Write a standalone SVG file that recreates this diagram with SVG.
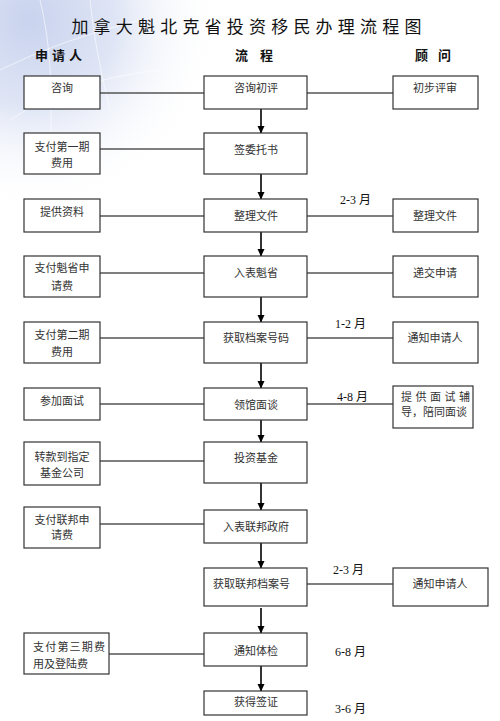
<svg xmlns="http://www.w3.org/2000/svg" width="500" height="721" viewBox="0 0 500 721">
<defs>
<radialGradient id="bg" cx="30" cy="20" r="190" gradientUnits="userSpaceOnUse">
<stop offset="0" stop-color="#c9d3ee"/>
<stop offset="0.45" stop-color="#dfe5f5"/>
<stop offset="1" stop-color="#ffffff" stop-opacity="0"/>
</radialGradient>
<marker id="ah" markerWidth="8" markerHeight="8" refX="7" refY="4" orient="auto" markerUnits="userSpaceOnUse">
<path d="M0,0.5 L7.5,4 L0,7.5 Z" fill="#000"/>
</marker>
<style>
.box{fill:#fff;stroke:#333;stroke-width:1.2}
.t{font-family:"Noto Sans CJK SC",sans-serif;font-size:11px;fill:#333;text-anchor:middle}
.tl{font-family:"Noto Sans CJK SC",sans-serif;font-size:11px;fill:#333}
.m{font-family:"Liberation Serif","Noto Sans CJK SC",serif;font-size:12px;fill:#111}
.h{font-family:"Noto Sans CJK SC",sans-serif;font-size:13px;font-weight:bold;fill:#111}
.link{stroke:#555;stroke-width:1.3;fill:none}
.arr{stroke:#000;stroke-width:1.6;fill:none;marker-end:url(#ah)}
</style>
</defs>
<rect width="500" height="721" fill="#fff"/>
<rect width="220" height="200" fill="url(#bg)"/>
<g stroke="#fff" stroke-opacity="0.6" fill="none" stroke-width="1">
<path d="M0,70 Q60,40 140,20"/>
<path d="M10,120 Q70,80 160,70"/>
<path d="M40,0 Q55,60 50,150"/>
<path d="M90,0 Q95,50 110,110"/>
</g>
<text x="249" y="33" font-family="Noto Sans CJK SC,sans-serif" font-size="17" letter-spacing="5.2" text-anchor="middle" fill="#111">加拿大魁北克省投资移民办理流程图</text>
<g id="headers">
<text class="h" x="35 48 52 65 69" y="60">申 请 人</text>
<text class="h" x="235 250 260" y="60">流 程</text>
<text class="h" x="415 430 438" y="60">顾 问</text>
</g>
<g id="connectors">
<line class="link" x1="100" y1="93" x2="204" y2="93"/>
<line class="link" x1="307" y1="93" x2="393" y2="93"/>
<line class="link" x1="100" y1="149" x2="204" y2="149"/>
<line class="link" x1="100" y1="216" x2="204" y2="216"/>
<line class="link" x1="307" y1="216" x2="393" y2="216"/>
<line class="link" x1="100" y1="273" x2="204" y2="273"/>
<line class="link" x1="307" y1="273" x2="393" y2="273"/>
<line class="link" x1="100" y1="338" x2="204" y2="338"/>
<line class="link" x1="307" y1="338" x2="393" y2="338"/>
<line class="link" x1="100" y1="404" x2="204" y2="404"/>
<line class="link" x1="307" y1="404" x2="393" y2="404"/>
<line class="link" x1="100" y1="461" x2="204" y2="461"/>
<line class="link" x1="100" y1="524" x2="204" y2="524"/>
<line class="link" x1="307" y1="584" x2="393" y2="584"/>
<line class="link" x1="109" y1="654" x2="204" y2="654"/>
<line class="arr" x1="261" y1="109" x2="261" y2="133"/>
<line class="arr" x1="261" y1="174" x2="261" y2="199"/>
<line class="arr" x1="261" y1="232" x2="261" y2="256"/>
<line class="arr" x1="261" y1="297" x2="261" y2="322"/>
<line class="arr" x1="261" y1="363" x2="261" y2="388"/>
<line class="arr" x1="261" y1="420" x2="261" y2="442"/>
<line class="arr" x1="261" y1="483" x2="261" y2="510"/>
<line class="arr" x1="261" y1="543" x2="261" y2="568"/>
<line class="arr" x1="261" y1="608" x2="261" y2="633"/>
<line class="arr" x1="261" y1="666" x2="261" y2="691"/>
</g>
<g id="n1"><rect class="box" x="204" y="76" width="103" height="33"/><text class="t" x="256" y="92">咨询初评</text></g>
<g id="n2"><rect class="box" x="204" y="133" width="103" height="41"/><text class="t" x="256" y="154">签委托书</text></g>
<g id="n3"><rect class="box" x="204" y="199" width="103" height="33"/><text class="t" x="256" y="220">整理文件</text></g>
<g id="n4"><rect class="box" x="204" y="256" width="103" height="41"/><text class="t" x="256" y="277">入表魁省</text></g>
<g id="n5"><rect class="box" x="204" y="322" width="103" height="41"/><text class="t" x="256" y="342">获取档案号码</text></g>
<g id="n6"><rect class="box" x="204" y="388" width="103" height="32"/><text class="t" x="256" y="409">领馆面谈</text></g>
<g id="n7"><rect class="box" x="204" y="442" width="103" height="41"/><text class="t" x="256" y="462">投资基金</text></g>
<g id="n8"><rect class="box" x="204" y="510" width="103" height="33"/><text class="t" x="256" y="531">入表联邦政府</text></g>
<g id="n9"><rect class="box" x="204" y="568" width="103" height="38"/><text class="tl" x="213" y="588">获取联邦档案号</text></g>
<g id="n10"><rect class="box" x="204" y="633" width="103" height="33"/><text class="t" x="256" y="655">通知体检</text></g>
<g id="n11"><rect class="box" x="204" y="691" width="103" height="24"/><text class="t" x="256" y="706">获得签证</text></g>
<g id="a1"><rect class="box" x="24" y="76" width="76" height="33"/><text class="t" x="62" y="92">咨询</text></g>
<g id="a2"><rect class="box" x="24" y="133" width="76" height="41"/><text class="t" x="62" y="151">支付第一期</text><text class="t" x="62" y="167">费用</text></g>
<g id="a3"><rect class="box" x="24" y="199" width="76" height="33"/><text class="t" x="62" y="216">提供资料</text></g>
<g id="a4"><rect class="box" x="24" y="256" width="76" height="41"/><text class="t" x="62" y="272">支付魁省申</text><text class="t" x="62" y="290">请费</text></g>
<g id="a5"><rect class="box" x="24" y="322" width="76" height="41"/><text class="t" x="62" y="339">支付第二期</text><text class="t" x="62" y="356">费用</text></g>
<g id="a6"><rect class="box" x="24" y="388" width="76" height="32"/><text class="t" x="62" y="405">参加面试</text></g>
<g id="a7"><rect class="box" x="24" y="442" width="76" height="43"/><text class="t" x="62" y="461">转款到指定</text><text class="t" x="62" y="477">基金公司</text></g>
<g id="a8"><rect class="box" x="24" y="507" width="76" height="41"/><text class="t" x="62" y="524">支付联邦申</text><text class="t" x="62" y="539">请费</text></g>
<g id="a10"><rect class="box" x="24" y="633" width="85" height="41"/><text class="tl" x="33" y="651" letter-spacing="1.2">支付第三期费</text><text class="tl" x="33" y="668">用及登陆费</text></g>
<g id="c1"><rect class="box" x="393" y="76" width="85" height="33"/><text class="t" x="435" y="92">初步评审</text></g>
<g id="c3"><rect class="box" x="393" y="199" width="85" height="33"/><text class="t" x="435" y="220">整理文件</text></g>
<g id="c4"><rect class="box" x="393" y="256" width="85" height="41"/><text class="t" x="435" y="277">递交申请</text></g>
<g id="c5"><rect class="box" x="393" y="322" width="85" height="41"/><text class="t" x="435" y="342">通知申请人</text></g>
<g id="c6"><rect class="box" x="393" y="386" width="80" height="42"/><text class="tl" x="401 412 415.5 426 430 441 444.5 455 459" y="401">提 供 面 试 辅</text><text class="tl" x="401" y="416">导，陪同面谈</text></g>
<g id="c9"><rect class="box" x="393" y="568" width="95" height="38"/><text class="t" x="440" y="588">通知申请人</text></g>
<g id="labels">
<text class="m" x="340" y="204">2-3 月</text>
<text class="m" x="335" y="328">1-2 月</text>
<text class="m" x="337" y="401">4-8 月</text>
<text class="m" x="333" y="574">2-3 月</text>
<text class="m" x="335" y="656">6-8 月</text>
<text class="m" x="335" y="713">3-6 月</text>
</g>
</svg>
